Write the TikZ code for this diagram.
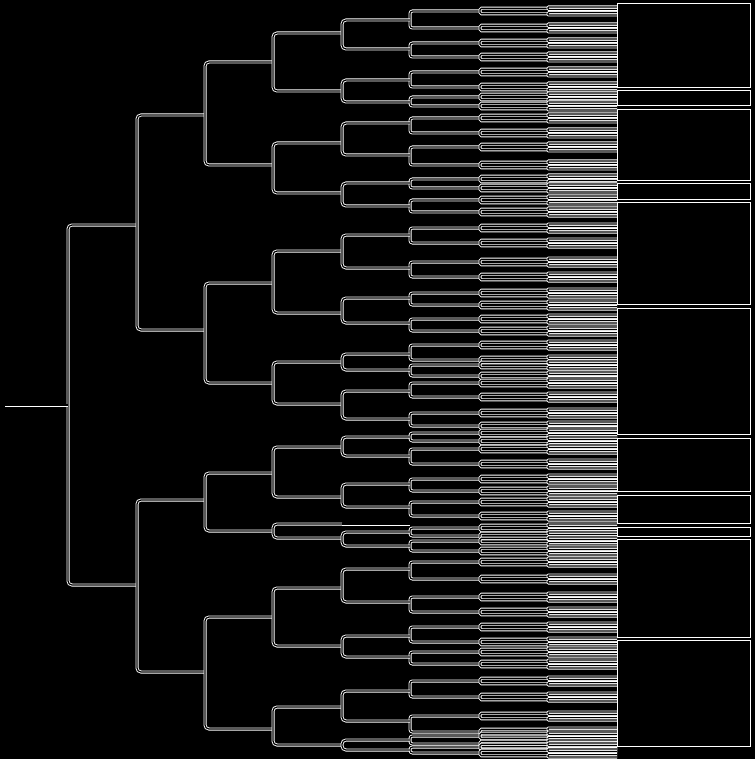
\documentclass[tikz,border=0pt]{standalone}
\usepackage{tikz}
\begin{document}
\begin{tikzpicture}[x=1pt, y=-1pt,
    branch/.style={draw=white, line width=0.9pt, double=black, double distance=1.2pt, rounded corners=4pt},
    spray/.style={branch, rounded corners=2.5pt},
    twig/.style={branch, rounded corners=1.5pt},
    leafpair/.style={branch, rounded corners=0.8pt},
    clade/.style={draw=white, line width=0.9pt}]
    % Fondo
    \fill[black] (0,0) rectangle (755,759);
    \useasboundingbox (0,0) rectangle (755,759);

    % Raiz y niveles 1-5
    \coordinate (stem) at (5,405);
    \coordinate (n) at (68,405);
    \foreach \name/\x/\y in {n1/137/225, n2/137/585,
        n11/205/115, n12/205/330, n21/205/500, n22/205/672,
        n111/273/62, n112/273/165, n121/273/283, n122/273/383,
        n211/273/473, n212/273/531, n221/273/617, n222/273/729,
        n1111/342/33, n1112/342/91, n1121/342/143, n1122/342/193,
        n1211/342/251, n1212/342/313, n1221/342/362, n1222/342/404,
        n2111/342/447, n2112/342/497, n2121/342/524, n2122/342/538,
        n2211/342/588, n2212/342/646, n2221/342/707, n2222/342/745} {
        \coordinate (\name) at (\x,\y);
    }
    \coordinate (tip) at (410,524);

    % Niveles 6-8 y hojas
    \foreach \p/\y/\a/\b in {n11111/20/11/28, n11112/49/43/57,
        n11121/80/72/87, n11122/102/97/106,
        n11211/123/118/133, n11212/155/147/165,
        n11221/183/179/188, n11222/206/200/212,
        n12111/235/228/243, n12112/268/262/277,
        n12121/298/293/305, n12122/323/319/331,
        n12211/354/345/360, n12212/370/365/376,
        n12221/391/383/397, n12222/419/413/426,
        n21111/437/433/441, n21112/456/449/464,
        n21121/484/479/491, n21122/507/502/516,
        n21221/532/528/536, n21222/546/541/551,
        n22111/569/562/579, n22112/602/597/612,
        n22121/636/627/642, n22122/657/652/664,
        n22211/691/681/697, n22212/721/716/732,
        n22221/740/736/744, n22222/750/747/753} {
        \coordinate (\p) at (410,\y);
        \coordinate (\p1) at (480,\a);
        \coordinate (\p2) at (480,\b);
        \draw[spray] (\p1) -- (\p1 -| \p) -- (\p2 -| \p) -- (\p2);
        \foreach \c/\yc in {1/\a, 2/\b} {
            \coordinate (\p\c1) at (548,\yc-2.8);
            \coordinate (\p\c2) at (548,\yc+2.8);
            \draw[twig] (\p\c1) -- (\p\c1 -| \p\c) -- (\p\c2 -| \p\c) -- (\p\c2);
            \foreach \d/\yd in {1/\yc-2.8, 2/\yc+2.8} {
                \coordinate (\p\c\d1) at (617,\yd-1.2);
                \coordinate (\p\c\d2) at (617,\yd+1.2);
                \draw[leafpair] (\p\c\d1) -- (\p\c\d1 -| \p\c\d) -- (\p\c\d2 -| \p\c\d) -- (\p\c\d2);
            }
        }
    }

    % Horquillas superiores
    \foreach \p/\a/\b in {n/n1/n2, n1/n11/n12, n2/n21/n22,
        n11/n111/n112, n12/n121/n122, n21/n211/n212, n22/n221/n222,
        n111/n1111/n1112, n112/n1121/n1122, n121/n1211/n1212, n122/n1221/n1222,
        n211/n2111/n2112, n212/n2121/n2122, n221/n2211/n2212, n222/n2221/n2222,
        n1111/n11111/n11112, n1112/n11121/n11122, n1121/n11211/n11212,
        n1122/n11221/n11222, n1211/n12111/n12112, n1212/n12121/n12122,
        n1221/n12211/n12212, n1222/n12221/n12222, n2111/n21111/n21112,
        n2112/n21121/n21122, n2122/n21221/n21222, n2211/n22111/n22112,
        n2212/n22121/n22122, n2221/n22211/n22212, n2222/n22221/n22222} {
        \draw[branch] (\a) -- (\a -| \p) -- (\b -| \p) -- (\b);
    }
    % Tallos sueltos
    \draw[branch] (stem) -- (stem -| n);
    \draw[branch] (n2121) -- (n2121 -| tip);

    % Cajas de grupos
    \foreach \ya/\yb in {3/87, 90/105, 109/180, 183/199, 202/304, 308/434,
        438/491, 495/523, 527/536, 539/637, 640/746} {
        \draw[clade] (617,\ya) rectangle (750,\yb);
    }
\end{tikzpicture}
\end{document}
